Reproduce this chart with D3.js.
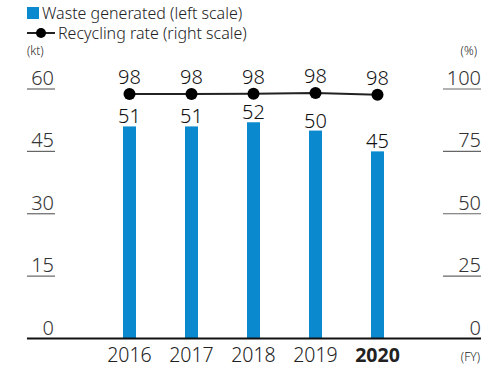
<!DOCTYPE html>
<html>
<head>
<meta charset="utf-8">
<script src="https://cdn.jsdelivr.net/npm/d3@7"></script>
<style>
  html, body { margin: 0; padding: 0; background: #fff; }
  svg { display: block; font-family: "Noto Sans", "Open Sans", sans-serif; font-weight: 300; }
</style>
</head>
<body>
<svg id="chart" width="499" height="368"></svg>
<script>
// Fiscal years and series
const years = ["2016", "2017", "2018", "2019", "2020"];
const wasteKt = [51, 51, 52, 50, 45];
const recyclingPct = [98.0, 98.0, 98.1, 98.4, 97.7];
const leftTicks = [0, 15, 30, 45, 60];
const rightTicks = [0, 25, 50, 75, 100];
const highlightYear = "2020";

const svg = d3.select("#chart");
const BLUE = "#0a89cf";
const INK = "#222";

const x = d3.scalePoint().domain(years).range([129.5, 377.5]);
const yL = d3.scaleLinear().domain([0, 60]).range([338.5, 89]);
const yR = d3.scaleLinear().domain([0, 100]).range([338.5, 89]);
const barW = 13;

// Legend
const legend = svg.append("g");
legend.append("rect").attr("x", 27).attr("y", 7).attr("width", 12).attr("height", 12).attr("fill", BLUE);
legend.append("text").attr("x", 42).attr("y", 18.5).attr("font-size", 16).attr("fill", INK)
  .text("Waste generated (left scale)");
legend.append("line").attr("x1", 27).attr("x2", 55).attr("y1", 33).attr("y2", 33)
  .attr("stroke", INK).attr("stroke-width", 2);
legend.append("circle").attr("cx", 41).attr("cy", 33).attr("r", 5).attr("fill", "#000");
legend.append("text").attr("x", 58).attr("y", 39).attr("font-size", 16).attr("fill", INK)
  .text("Recycling rate (right scale)");

// Unit labels
svg.append("text").attr("x", 27).attr("y", 55).attr("font-size", 12).attr("fill", INK).text("(kt)");
svg.append("text").attr("x", 477).attr("y", 55).attr("text-anchor", "end").attr("font-size", 12).attr("fill", INK).text("(%)");
svg.append("text").attr("x", 480).attr("y", 361).attr("text-anchor", "end").attr("font-size", 12).attr("fill", INK).text("(FY)");

// Left axis: value with a short rule underneath
const gl = svg.append("g");
leftTicks.forEach(t => {
  if (t !== 0) {
    gl.append("line").attr("x1", 27).attr("x2", 55).attr("y1", yL(t)).attr("y2", yL(t))
      .attr("stroke", "#666").attr("stroke-width", 1.2);
  }
  gl.append("text").attr("x", 54).attr("y", yL(t) - 4).attr("text-anchor", "end")
    .attr("font-size", 20).attr("fill", "#333").text(t);
});

// Right axis
const gr = svg.append("g");
rightTicks.forEach(t => {
  if (t !== 0) {
    gr.append("line").attr("x1", 443).attr("x2", 481).attr("y1", yR(t)).attr("y2", yR(t))
      .attr("stroke", "#666").attr("stroke-width", 1.2);
  }
  gr.append("text").attr("x", 481).attr("y", yR(t) - 4).attr("text-anchor", "end")
    .attr("font-size", 20).attr("fill", "#333").text(t);
});

// Bars
svg.append("g").selectAll("rect").data(years).join("rect")
  .attr("x", d => x(d) - barW / 2)
  .attr("y", (d, i) => yL(wasteKt[i]))
  .attr("width", barW)
  .attr("height", (d, i) => yL(0) - yL(wasteKt[i]))
  .attr("fill", BLUE);

svg.append("g").selectAll("text").data(years).join("text")
  .attr("x", d => x(d))
  .attr("y", (d, i) => yL(wasteKt[i]) - 3)
  .attr("text-anchor", "middle").attr("font-size", 20).attr("fill", "#111")
  .text((d, i) => wasteKt[i]);

// Baseline
svg.append("line").attr("x1", 27).attr("x2", 481).attr("y1", yL(0)).attr("y2", yL(0))
  .attr("stroke", "#111").attr("stroke-width", 2);

// Recycling rate line
const line = d3.line().x((d, i) => x(years[i])).y(d => yR(d));
svg.append("path").datum(recyclingPct).attr("d", line)
  .attr("fill", "none").attr("stroke", INK).attr("stroke-width", 2);
svg.append("g").selectAll("circle").data(recyclingPct).join("circle")
  .attr("cx", (d, i) => x(years[i])).attr("cy", d => yR(d)).attr("r", 6).attr("fill", "#000");
svg.append("g").selectAll("text").data(recyclingPct).join("text")
  .attr("x", (d, i) => x(years[i]))
  .attr("y", d => yR(d) - 10)
  .attr("text-anchor", "middle").attr("font-size", 20).attr("fill", "#111")
  .text(d => Math.round(d));

// Year labels
svg.append("g").selectAll("text").data(years).join("text")
  .attr("x", d => x(d)).attr("y", 362)
  .attr("text-anchor", "middle").attr("font-size", 19.5)
  .attr("font-weight", d => d === highlightYear ? "bold" : null)
  .attr("fill", "#222")
  .text(d => d);
</script>
</body>
</html>
